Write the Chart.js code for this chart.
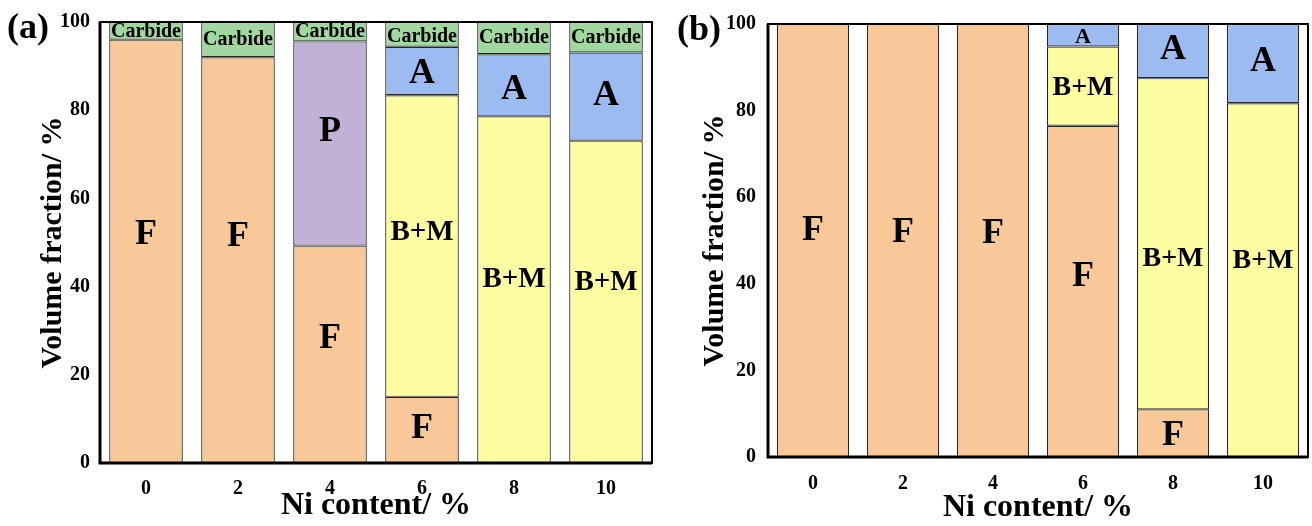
<!DOCTYPE html>
<html>
<head>
<meta charset="utf-8">
<script src="https://cdn.jsdelivr.net/npm/chart.js@4.4.1/dist/chart.umd.min.js"></script>
<style>
  html, body { margin: 0; padding: 0; background: #fff; }
  .panel { position: absolute; top: 0; width: 656px; height: 526px; }
</style>
</head>
<body>
<div class="panel" style="left:0"><canvas id="chartA" width="656" height="526"></canvas></div>
<div class="panel" style="left:656px"><canvas id="chartB" width="656" height="526"></canvas></div>
<script>
const niContent = ['0', '2', '4', '6', '8', '10'];

// (a) phase volume fractions, stacked bottom to top
const ferriteA = [96, 92, 49.3, 15, null, null];
const pearliteA = [null, null, 46.3, null, null, null];
const bainiteMartensiteA = [null, null, null, 68.4, 78.6, 73.1];
const austeniteA = [null, null, null, 11, 14.1, 20];
const carbideA = [4, 8, 4.4, 5.6, 7.3, 6.9];

// (b)
const ferriteB = [100, 100, 100, 76.5, 11, null];
const bainiteMartensiteB = [null, null, null, 18.3, 76.5, 81.7];
const austeniteB = [null, null, null, 5.2, 12.5, 18.3];

// in-bar phase names: [bar index, text, height in %, font size]
const tagsA = [
    [0, 'Carbide', 97.7, 20], [1, 'Carbide', 96, 20], [2, 'Carbide', 97.7, 20],
    [3, 'Carbide', 96.6, 20], [4, 'Carbide', 96.5, 20], [5, 'Carbide', 96.3, 20],
    [0, 'F', 51.7, 36], [1, 'F', 51.4, 36],
    [2, 'P', 75.2, 36], [2, 'F', 28.1, 36],
    [3, 'A', 88.3, 36], [3, 'B+M', 52.2, 29], [3, 'F', 7.8, 36],
    [4, 'A', 84.7, 36], [4, 'B+M', 41.6, 29],
    [5, 'A', 83.4, 36], [5, 'B+M', 40.9, 29]
];
const tagsB = [
    [0, 'F', 52.3, 36], [1, 'F', 51.9, 36], [2, 'F', 51.5, 36],
    [3, 'A', 96.9, 22], [3, 'B+M', 85.3, 28], [3, 'F', 41.6, 36],
    [4, 'A', 94.1, 36], [4, 'B+M', 45.8, 28], [4, 'F', 4.9, 36],
    [5, 'A', 91.4, 36], [5, 'B+M', 45.4, 28]
];

const COLORS = {
    F: '#F9C898',
    P: '#C1B1D7',
    BM: '#FEFCA1',
    A: '#9CBCF1',
    C: '#A0D8A0'
};
const SERIF = '"Liberation Serif", "Times New Roman", serif';

function phase(label, data, color) {
    return {
        label: label,
        data: data,
        backgroundColor: color,
        borderColor: '#262626',
        borderWidth: 1.2,
        borderSkipped: false,
        categoryPercentage: 1,
        barPercentage: 0.8
    };
}

// black frame round the plot area plus the panel letter and bar texts
const decorPlugin = {
    id: 'decor',
    afterDatasetsDraw(chart, args, opts) {
        const { ctx, chartArea: a, scales } = chart;
        ctx.save();
        ctx.strokeStyle = '#000';
        ctx.lineWidth = 2;
        ctx.strokeRect(a.left, a.top, a.right - a.left, a.bottom - a.top);
        ctx.lineWidth = 3;
        ctx.beginPath();
        ctx.moveTo(a.left, a.top);
        ctx.lineTo(a.left, a.bottom);
        ctx.lineTo(a.right, a.bottom);
        ctx.stroke();

        ctx.fillStyle = '#000';
        ctx.textAlign = 'center';
        ctx.textBaseline = 'middle';
        opts.tags.forEach(([i, text, at, size]) => {
            ctx.font = `bold ${size}px ${SERIF}`;
            ctx.fillText(text, scales.x.getPixelForValue(i), scales.y.getPixelForValue(at));
        });

        ctx.textAlign = 'left';
        ctx.font = `bold 36px ${SERIF}`;
        ctx.fillText(opts.letter, opts.letterX, opts.letterY);
        ctx.restore();
    }
};

function makeChart(id, datasets, opt) {
    return new Chart(document.getElementById(id), {
        type: 'bar',
        data: { labels: niContent, datasets: datasets },
        plugins: [decorPlugin],
        options: {
            responsive: false,
            animation: false,
            layout: { padding: { top: opt.top, right: 4, left: 0, bottom: 0 } },
            plugins: {
                legend: { display: false },
                tooltip: { enabled: false },
                decor: { tags: opt.tags, letter: opt.letter, letterX: opt.letterX, letterY: opt.letterY }
            },
            scales: {
                x: {
                    stacked: true,
                    grid: { display: false, drawTicks: false },
                    border: { display: false },
                    ticks: { color: '#000', padding: opt.xTickPad, font: { family: SERIF, size: 20, weight: 'bold' } },
                    title: {
                        display: true,
                        text: 'Ni content/ %',
                        color: '#000',
                        padding: { top: 0, bottom: opt.xTitlePad },
                        font: { family: SERIF, size: 32, weight: 'bold', lineHeight: 1 }
                    },
                    afterFit: (scale) => { scale.height = opt.xHeight; }
                },
                y: {
                    stacked: true,
                    min: 0,
                    max: 100,
                    grid: { display: false, drawTicks: false },
                    border: { display: false },
                    ticks: { stepSize: 20, color: '#000', padding: opt.yTickPad, font: { family: SERIF, size: 20, weight: 'bold' } },
                    title: {
                        display: true,
                        text: 'Volume fraction/ %',
                        color: '#000',
                        padding: { top: opt.yTitlePad, bottom: 0 },
                        font: { family: SERIF, size: 30, weight: 'bold', lineHeight: 1 }
                    },
                    afterFit: (scale) => { scale.width = opt.yWidth; }
                }
            }
        }
    });
}

makeChart('chartA', [
    phase('F', ferriteA, COLORS.F),
    phase('P', pearliteA, COLORS.P),
    phase('B+M', bainiteMartensiteA, COLORS.BM),
    phase('A', austeniteA, COLORS.A),
    phase('Carbide', carbideA, COLORS.C)
], {
    top: 18, xHeight: 63, yWidth: 100, xTickPad: 14, xTitlePad: 4, yTickPad: 10, yTitlePad: 38,
    tags: tagsA, letter: '(a)', letterX: 7, letterY: 29
});

makeChart('chartB', [
    phase('F', ferriteB, COLORS.F),
    phase('B+M', bainiteMartensiteB, COLORS.BM),
    phase('A', austeniteB, COLORS.A)
], {
    top: 19, xHeight: 69, yWidth: 112, xTickPad: 15, xTitlePad: 2, yTickPad: 12, yTitlePad: 44,
    tags: tagsB, letter: '(b)', letterX: 21, letterY: 31
});
</script>
</body>
</html>
